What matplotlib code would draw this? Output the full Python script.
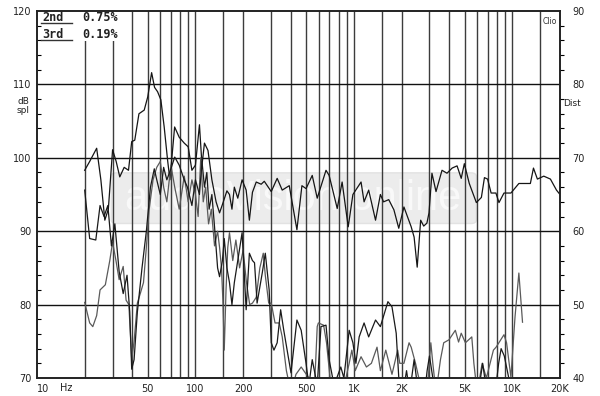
import matplotlib
matplotlib.use("Agg")
import matplotlib.pyplot as plt
from matplotlib.patches import FancyBboxPatch, Rectangle
from matplotlib.ticker import FixedLocator, MultipleLocator, NullLocator

# frequency response, dB spl (left axis)
fr_freq = [20, 21.5, 23.8, 25.3, 26.8, 28.2, 30, 31.6, 33.3, 35.5, 37.8, 39.6, 41.4, 44, 47.5,
           50, 52.9, 55.2, 57.7, 60.5, 63.5, 66.7, 69, 73.9, 79, 85, 90, 95, 100, 106, 110,
           114, 120, 127, 135, 142, 150, 158, 164, 170, 176, 185, 197, 209, 219, 229, 242,
           260, 272, 301, 328, 353, 391, 437, 470, 499, 546, 587, 667, 698, 785, 843, 921,
           986, 1110, 1160, 1240, 1370, 1470, 1540, 1660, 1790, 1920, 2070, 2300, 2400, 2510,
           2640, 2760, 2890, 2980, 3110, 3300, 3600, 3870, 4170, 4480, 4760, 4980, 5350, 5930,
           6380, 6670, 6980, 7350, 7880, 8240, 8860, 9800, 11000, 12100, 13000, 13600, 14400,
           15800, 17400, 19000, 20000]
fr_spl = [98.3, 99.5, 101.3, 97, 91.5, 93, 101.1, 99.5, 97.4, 98.7, 98.3, 102.2, 102.4, 106, 106.5,
          108.3, 111.6, 109.6, 109, 107.9, 104.2, 99.7, 97, 104.2, 102.8, 102, 101.5, 98.3, 99, 104.5, 99,
          102, 101, 97, 94, 92.5, 94, 95.5, 95, 93, 96, 94.5, 97, 95.6, 91.5, 95.3, 96.7,
          96.4, 96.8, 95.4, 97.2, 95.6, 96.2, 90.2, 96.2, 95.8, 97.6, 94.5, 98.3, 97.6, 93.1, 96.7, 90.6,
          95, 96.7, 94, 95.6, 91.5, 95, 94, 94.3, 92.9, 90.4, 93.3, 90.6, 89.2, 85.1,
          91.5, 90.7, 91.1, 92.5, 97.9, 95.4, 98.3, 97.9, 98.6, 98.9, 97.2, 99.2, 96.5, 93.9,
          94.6, 97.3, 97.1, 95.2, 95.2, 93.9, 95.2, 95.2, 96.5, 96.5, 96.5, 98.6, 97.1,
          97.5, 97.1, 95.6, 95]

# 2nd harmonic, Dist (right axis)
h2_freq = [20, 21.5, 22.5, 23.8, 25, 27, 28.8, 30, 31.5, 33, 35, 36.5, 38, 39.6, 41, 43, 45, 47,
           49, 51, 54, 57, 60, 63, 66, 70, 74, 79, 85, 90, 95, 100, 104, 108, 112, 116, 121,
           126, 132, 138, 142, 146, 149, 152, 156, 160, 164, 172, 180, 190, 200, 210, 220, 229,
           242, 255, 268, 276, 290, 301, 318, 338, 353, 375, 401, 431, 465, 520, 560, 574, 587,
           597, 644, 672, 715, 800, 870, 934, 971, 1020, 1110, 1200, 1290, 1400, 1470, 1590,
           1740, 1890, 1950, 2070, 2230, 2300, 2450, 2570, 2760, 2900, 3060, 3150, 3300, 3520,
           3690, 3980, 4370, 4580, 4760, 5060, 5550, 5720, 6000, 6450, 6860, 7600, 7900, 8860,
           9200, 9800, 10400, 11000, 11600]
h2_dist = [50.3, 47.5, 47, 48.5, 52, 52.7, 56, 58.5, 56, 53.4, 55.2, 50.6, 50, 42.5, 45, 50.2, 51.6, 53,
           57.8, 62.9, 67, 68.7, 69.5, 66, 64, 69, 66, 63, 67.5, 64, 67, 65, 62, 70, 64, 66, 61,
           63, 58, 60, 57.8, 55, 50.6, 43.8, 52, 57.8, 59.8, 56, 58.8, 55, 57.4, 53, 50, 50.2,
           51, 55, 57, 54, 50.2, 50.2, 47.5, 47.5, 45.6, 41, 38, 40.5, 41.5, 40, 38, 42.2, 47,
           47.5, 47.2, 44.8, 39, 37, 39, 42, 43.8, 41, 42.9, 41.5, 42, 44.2, 41, 43.8,
           40.5, 43.8, 42, 42, 44.8, 44.2, 42, 40, 37, 38, 44.8, 42, 38, 42.5,
           44.8, 45.2, 46.5, 44.9, 46.1, 44.8, 45.6, 42, 38, 42, 40, 43.8, 44.2, 45.9,
           44.8, 40.1, 48.3, 54.3, 47.6]

# 3rd harmonic, Dist (right axis)
h3_freq = [20, 21.5, 23.5, 25, 26.5, 28, 29.5, 31, 33, 35, 37, 38.5, 39.6, 41, 43, 46, 49, 52,
           55, 57, 60, 63, 66, 70, 74, 79, 85, 89, 95, 100, 106, 110, 114, 118, 122, 127, 132,
           138, 142, 148, 152, 158, 164, 170, 176, 185, 197, 209, 219, 229, 236, 245, 264, 276,
           292, 301, 313, 328, 345, 361, 401, 437, 465, 499, 520, 546, 587, 620, 667, 698, 750,
           827, 865, 934, 986, 1030, 1080, 1160, 1240, 1370, 1470, 1640, 1740, 1850, 1920, 2010,
           2150, 2250, 2400, 2550, 2700, 2900, 3000, 3150, 3300, 3600, 4000, 4400, 5000, 5500,
           6200, 6500, 6800, 7200, 7800, 8200, 8500, 8900, 9500, 10000, 10300]
h3_dist = [65.6, 59, 58.8, 63.5, 62, 63.5, 58, 61, 54.5, 51.5, 54, 49, 41.2, 42.5, 49, 55, 60, 66,
           68.5, 67, 65, 68.7, 67, 68.5, 70.1, 69, 67, 66, 63.5, 67, 65, 69.5, 66, 68, 63, 65, 60.6,
           55, 53.8, 56, 59, 55, 53, 50, 53, 56, 59.8, 49.3, 57, 56, 55.7, 50.2, 54.3, 57,
           52, 44.8, 43.8, 44.8, 49.3, 46.5, 40.7, 47.9, 46.5, 42, 39, 42.5, 39, 47, 47.2, 42.5, 39,
           41.5, 40, 46.5, 44.8, 42, 45.6, 47.5, 45.6, 47.9, 47, 50.4, 49.7, 46.1, 40.1, 37,
           41, 38, 42.5, 38, 35, 41, 43, 40, 36, 34, 36, 33, 35, 34,
           39, 42, 39, 36, 38, 42, 44, 43, 40, 36, 39]

x_ticks = [10, 50, 100, 200, 500, 1000, 2000, 5000, 10000, 20000]
x_labels = ["10", "50", "100", "200", "500", "1K", "2K", "5K", "10K", "20K"]
grid_freqs = ([20, 30, 40, 50, 60, 70, 80, 90, 100, 150]
              + [200, 300, 400, 500, 600, 700, 800, 900, 1000, 1500]
              + [2000, 3000, 4000, 5000, 6000, 7000, 8000, 9000, 10000, 15000])
spl_ticks = [70, 80, 90, 100, 110, 120]
dist_ticks = [40, 50, 60, 70, 80, 90]
thd_rows = [("2nd", "0.75%"), ("3rd", "0.19%")]

fig = plt.figure(figsize=(6, 3.96), dpi=100)
ax = fig.add_axes([37 / 600, 18 / 396, 523 / 600, 367 / 396])
ax.set_xscale("log")
ax.set_xlim(10, 20000)
ax.set_ylim(70, 120)

ax2 = ax.twinx()
ax2.set_ylim(40, 90)
ax2.set_zorder(ax.get_zorder() + 1)
ax2.patch.set_visible(False)

# watermark
wm = FancyBboxPatch((0.146, 0.425), 0.69, 0.13, boxstyle="round,pad=0.004,rounding_size=0.01",
                    transform=ax.transAxes, facecolor="#ececec", edgecolor="#e2e2e2",
                    lw=1, zorder=0.5)
ax.add_patch(wm)
ax.text(0.49, 0.488, "audioVision online", transform=ax.transAxes, ha="center", va="center",
        fontsize=30, family="Liberation Sans", color="#f9f9f9", zorder=0.6)

for f in grid_freqs:
    ax.axvline(f, color="#3c3c3c", lw=1.0, zorder=1)
for v in spl_ticks[1:-1]:
    ax.axhline(v, color="#111111", lw=1.0, zorder=1)

# white box behind the distortion summary
ax.add_patch(Rectangle((0, 0.918), 0.165, 0.082, transform=ax.transAxes,
                       facecolor="white", edgecolor="none", zorder=1.5))
for i, (name, val) in enumerate(thd_rows):
    y = 0.982 - i * 0.047
    ax.text(0.01, y, name, transform=ax.transAxes, fontsize=8.5, family="DejaVu Sans Mono",
            weight="bold", color="#222222", va="center", zorder=3)
    ax.plot([0.008, 0.067], [y - 0.015, y - 0.015], transform=ax.transAxes, color="#333333",
            lw=1, zorder=3)
    ax.text(0.086, y, val, transform=ax.transAxes, fontsize=8.5, family="DejaVu Sans Mono",
            weight="bold", color="#222222", va="center", zorder=3)

ax.text(0.995, 0.985, "Clio", transform=ax.transAxes, ha="right", va="top", fontsize=5.5,
        color="#333333", bbox=dict(facecolor="white", edgecolor="none", pad=0.8), zorder=3)

ax.plot(fr_freq, fr_spl, color="#151515", lw=0.9, zorder=2)
ax2.plot(h2_freq, h2_dist, color="#5a5a5a", lw=0.9)
ax2.plot(h3_freq, h3_dist, color="#1a1a1a", lw=0.9)

# ticks and labels
ax.xaxis.set_major_locator(FixedLocator(x_ticks))
ax.xaxis.set_minor_locator(NullLocator())
ax.set_xticklabels(x_labels)
ax.tick_params(axis="x", length=0, pad=4, labelsize=7, labelcolor="#222222")
ax.get_xticklabels()[0].set_horizontalalignment("left")
ax.text(15.3, -0.013, "Hz", transform=ax.get_xaxis_transform(), ha="center", va="top",
        fontsize=7, color="#222222")

ax.set_yticks(spl_ticks)
ax.yaxis.set_minor_locator(MultipleLocator(2))
ax.tick_params(axis="y", which="major", length=0, pad=4, labelsize=7, labelcolor="#222222")
ax.tick_params(axis="y", which="minor", length=3, direction="in", width=0.8)
ax2.set_yticks(dist_ticks)
ax2.yaxis.set_minor_locator(MultipleLocator(2))
ax2.tick_params(axis="y", which="major", length=0, pad=9, labelsize=7, labelcolor="#222222")
ax2.tick_params(axis="y", which="minor", length=3, direction="out", width=0.8)

fig.text(17 / 600, 1 - 106 / 396, "dB\nspl", fontsize=6.5, color="#222222", va="center",
         ha="left", linespacing=1.0)
fig.text(563 / 600, 1 - 103 / 396, "Dist", fontsize=6.5, color="#222222", va="center", ha="left")

for a in (ax, ax2):
    for s in a.spines.values():
        s.set_color("#222222")
        s.set_linewidth(1.2)

fig.savefig("out.png", dpi=100, facecolor="white")
